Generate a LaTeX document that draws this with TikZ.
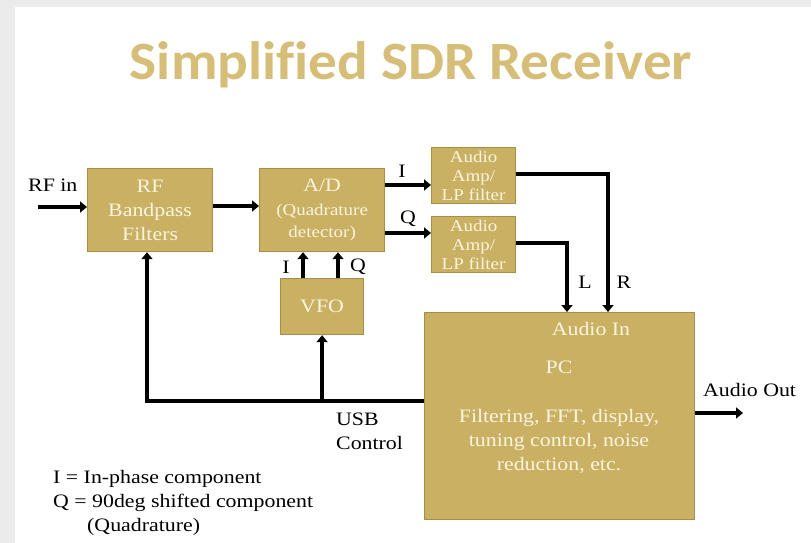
\documentclass[tikz,border=0pt]{standalone}
\usepackage{fontspec}
\setmainfont{Liberation Serif}[FakeStretch=1.15]
\newfontfamily\titlefont{Carlito}[FakeStretch=1.06, Ligatures=CommonOff]
\usetikzlibrary{arrows.meta}
\definecolor{pagebg}{HTML}{EBEBEB}
\definecolor{boxfill}{HTML}{C9B062}
\definecolor{boxborder}{HTML}{A88F45}
\definecolor{boxtext}{HTML}{FBF5E0}
\definecolor{titlegold}{HTML}{D6BE78}
\tikzset{
  blk/.style={draw=boxborder, line width=1.2pt, fill=boxfill, text=boxtext, align=center,
    anchor=north west, inner sep=0pt, font=\fontsize{19}{24}\selectfont},
  wire/.style={line width=4.5pt},
  arr/.style={wire, -{Triangle[length=7pt,width=11pt]}},
  lbl/.style={font=\fontsize{19}{24}\selectfont, inner sep=0pt, text=black},
  intext/.style={font=\fontsize{19}{24}\selectfont, inner sep=0pt, text=boxtext, align=center},
}
\begin{document}
\begin{tikzpicture}[x=1pt,y=-1pt]
\fill[pagebg] (0,0) rectangle (811,543);
\fill[white] (15,7) rectangle (811,543);
\useasboundingbox (0,0) rectangle (811,543);
% title
\node[anchor=base, inner sep=0pt, text=titlegold, font=\titlefont\bfseries\fontsize{54}{60}\selectfont] (title) at (411,80) {Simplified SDR Receiver};
% blocks
\node[blk, minimum width=125pt, minimum height=83pt] (rf) at (87,168) {RF\\Bandpass\\Filters};
\node[blk, minimum width=125pt, minimum height=83pt, font=\fontsize{16.5}{22}\selectfont] (ad) at (259,168) {{\fontsize{19}{22}\selectfont A/D}\\[2pt](Quadrature\\detector)};
\node[blk, minimum width=83pt, minimum height=56pt] (vfo) at (280,278) {VFO};
\node[blk, minimum width=84pt, minimum height=56pt, font=\fontsize{16.5}{19}\selectfont] (amp1) at (431,147) {Audio\\Amp/\\LP filter};
\node[blk, minimum width=84pt, minimum height=56pt, font=\fontsize{16.5}{19}\selectfont] (amp2) at (431,216) {Audio\\Amp/\\LP filter};
\node[blk, minimum width=270pt, minimum height=207pt] (pc) at (424,312) {};
\node[intext] (audioin) at (591,329) {Audio In};
\node[intext] (pclabel) at (559,367) {PC};
\node[intext] (pcdesc) at (559,441) {Filtering, FFT, display,\\tuning control, noise\\reduction, etc.};
% labels
\node[lbl, anchor=west] (rfin) at (28,185) {RF in};
\node[lbl] (ilab) at (402,171) {I};
\node[lbl] (qlab) at (408,219) {Q};
\node[lbl] (ilab2) at (286,267) {I};
\node[lbl] (qlab2) at (358,267) {Q};
\node[lbl] (llab) at (585,282) {L};
\node[lbl] (rlab) at (624,282) {R};
\node[lbl, anchor=west] (aout) at (703,390) {Audio Out};
\node[lbl, anchor=north west, align=left] (usb) at (336,413) {USB\\Control};
\node[lbl, anchor=north west, align=left] (legend) at (53,470) {I = In-phase component\\Q = 90deg shifted component\\\hspace*{34pt}(Quadrature)};
% connectors
\coordinate (rfstart) at (38,207);
\draw[arr] (rfstart) -- (rfstart -| rf.west);
\draw[arr] (rf.east |- 0,206) -- (ad.west |- 0,206);
\draw[arr] (ad.east |- 0,185) -- (amp1.west |- 0,185);
\draw[arr] (ad.east |- 0,233) -- (amp2.west |- 0,233);
\draw[arr] (amp1.east |- 0,174) -| (pc.north -| 608,0);
\draw[arr] (amp2.east |- 0,243) -| (pc.north -| 567,0);
\draw[arr] (vfo.north -| 303,0) -- (ad.south -| 303,0);
\draw[arr] (vfo.north -| 338,0) -- (ad.south -| 338,0);
\coordinate (usbcorner) at (147,401);
\draw[arr] (pc.west |- usbcorner) -- (usbcorner) -- (rf.south -| usbcorner);
\draw[arr] (vfo.south |- usbcorner) -- (vfo.south);
\draw[arr] (pc.east |- 0,413) -- (743,413);
\end{tikzpicture}
\end{document}
